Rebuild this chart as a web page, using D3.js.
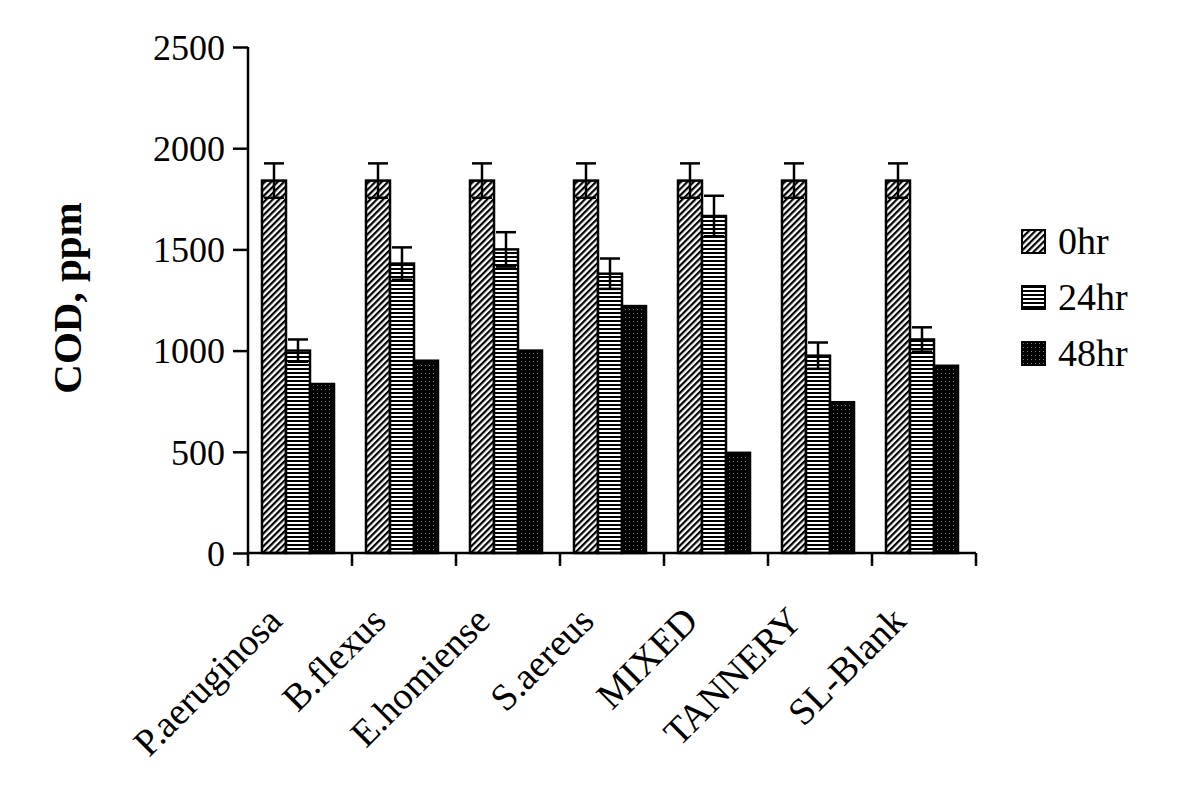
<!DOCTYPE html>
<html><head><meta charset="utf-8">
<script src="https://cdn.jsdelivr.net/npm/d3@7"></script>
<style>body{margin:0;background:#fff}svg{display:block}text{font-family:"Liberation Serif","Times New Roman",serif;fill:#000}</style>
</head><body>
<script>
const categories = ["P.aeruginosa","B.flexus","E.homiense","S.aereus","MIXED","TANNERY","SL-Blank"];
const seriesNames = ["0hr","24hr","48hr"];
const values0 = [1840,1840,1840,1840,1840,1840,1840];
const values24 = [1000,1430,1500,1380,1665,975,1055];
const values48 = [835,950,1000,1220,495,745,925];
const err0 = [85,85,85,85,85,85,85];
const err24 = [55,80,85,75,100,65,60];
const yTicks = [0,500,1000,1500,2000,2500];

const W=1200,H=791;
const svg=d3.select("body").append("svg").attr("width",W).attr("height",H);
const defs=svg.append("defs");
const p1=defs.append("pattern").attr("id","pDiag").attr("patternUnits","userSpaceOnUse").attr("width",4.5).attr("height",4.5).attr("patternTransform","rotate(45)");
p1.append("rect").attr("width",4.5).attr("height",4.5).attr("fill","#fff");
p1.append("rect").attr("width",2.2).attr("height",4.5).attr("fill","#000");
const p2=defs.append("pattern").attr("id","pHoriz").attr("patternUnits","userSpaceOnUse").attr("width",4).attr("height",4);
p2.append("rect").attr("width",4).attr("height",4).attr("fill","#fff");
p2.append("rect").attr("width",4).attr("height",2).attr("fill","#000");
const p3=defs.append("pattern").attr("id","pDots").attr("patternUnits","userSpaceOnUse").attr("width",4).attr("height",4);
p3.append("rect").attr("width",4).attr("height",4).attr("fill","#000");
p3.append("rect").attr("x",1).attr("y",1).attr("width",1).attr("height",1).attr("fill","#777");
const fills=["url(#pDiag)","url(#pHoriz)","url(#pDots)"];

const x0=d3.scaleBand().domain(categories).range([248,976]).paddingInner(0).paddingOuter(0);
const x1=d3.scaleBand().domain(seriesNames).range([14,86]);
const y=d3.scaleLinear().domain([0,2500]).range([553,47]);

const data=categories.map((c,i)=>({c,vals:[
  {s:"0hr",v:values0[i],e:err0[i]},
  {s:"24hr",v:values24[i],e:err24[i]},
  {s:"48hr",v:values48[i],e:null}]}));

const g=svg.append("g");
const grp=g.selectAll("g.cat").data(data).join("g").attr("transform",d=>`translate(${x0(d.c)},0)`);
grp.selectAll("rect").data(d=>d.vals).join("rect")
  .attr("x",d=>x1(d.s)).attr("width",x1.bandwidth())
  .attr("y",d=>y(d.v)).attr("height",d=>y(0)-y(d.v))
  .attr("fill",(d,i)=>fills[i]).attr("stroke","#000").attr("stroke-width",2.5);
const eb=grp.selectAll("g.eb").data(d=>d.vals.filter(v=>v.e!=null)).join("g");
const cx=d=>x1(d.s)+x1.bandwidth()/2;
eb.append("line").attr("x1",cx).attr("x2",cx)
  .attr("y1",d=>y(d.v+d.e)).attr("y2",d=>y(d.v-d.e)).attr("stroke","#000").attr("stroke-width",2.5);
eb.append("line").attr("x1",d=>cx(d)-10).attr("x2",d=>cx(d)+10)
  .attr("y1",d=>y(d.v+d.e)).attr("y2",d=>y(d.v+d.e)).attr("stroke","#000").attr("stroke-width",2.5);
eb.append("line").attr("x1",d=>cx(d)-10).attr("x2",d=>cx(d)+10)
  .attr("y1",d=>y(d.v-d.e)).attr("y2",d=>y(d.v-d.e)).attr("stroke","#000").attr("stroke-width",2.5);

const ya=svg.append("g").attr("transform","translate(248,0)").call(d3.axisLeft(y).tickValues(yTicks).tickSize(15).tickPadding(8).tickFormat(d3.format("d")));
ya.select(".domain").attr("stroke","#000").attr("stroke-width",2.5).attr("d","M0,47V553");
ya.selectAll(".tick line").attr("stroke","#000").attr("stroke-width",2.5);
ya.selectAll(".tick text").attr("font-size",36).attr("font-family","Liberation Serif").attr("dy","0.34em");

const xa=svg.append("g").attr("transform","translate(0,553)");
xa.append("line").attr("x1",248).attr("x2",976).attr("y1",0).attr("y2",0).attr("stroke","#000").attr("stroke-width",2.5);
const bounds=categories.map(c=>x0(c)).concat([x0(categories[categories.length-1])+x0.bandwidth()]);
xa.selectAll("line.t").data(bounds).join("line").attr("class","t").attr("x1",d=>d).attr("x2",d=>d).attr("y1",0).attr("y2",13).attr("stroke","#000").attr("stroke-width",2.5);
xa.selectAll("text").data(categories).join("text")
  .attr("transform",d=>`translate(${x0(d)+x0.bandwidth()/2-16},70) rotate(-45)`)
  .attr("text-anchor","end").attr("font-size",38).text(d=>d);

svg.append("text").attr("transform","translate(81,298) rotate(-90)").attr("text-anchor","middle")
  .attr("font-size",41).attr("font-weight","bold").text("COD, ppm");

const lg=svg.append("g").attr("transform","translate(1022,230)");
const li=lg.selectAll("g").data(seriesNames).join("g").attr("transform",(d,i)=>`translate(0,${i*56})`);
li.append("rect").attr("width",23).attr("height",23).attr("fill",(d,i)=>fills[i]).attr("stroke","#000").attr("stroke-width",2);
li.append("text").attr("x",36).attr("y",24).attr("font-size",38).text(d=>d);
</script>
</body></html>
